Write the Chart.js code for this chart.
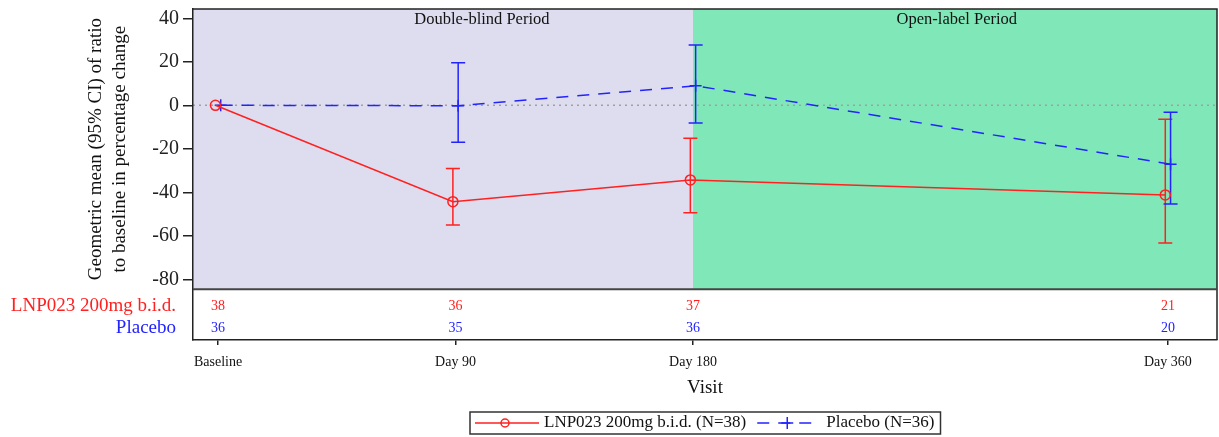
<!DOCTYPE html>
<html lang="en">
<head>
  <meta charset="UTF-8" />
  <title>Geometric mean ratio to baseline</title>
  <script src="https://cdn.jsdelivr.net/npm/chart.js"></script>
  <style>
    body { margin: 0; padding: 0; background: #fff; }
    canvas { display: block; }
  </style>
</head>
<body>
  <canvas id="visitChart" width="1219" height="437"></canvas>

  <script>
    // visits (study day) and their labels
    const visitDays = [0, 90, 180, 360];
    const visitLabels = ["Baseline", "Day 90", "Day 180", "Day 360"];

    // LNP023 200mg b.i.d.
    const lnpMean  = [0, -44.3, -34.3, -41.2];
    const lnpLower = [0, -55.0, -49.4, -63.3];
    const lnpUpper = [0, -29.0, -15.2, -6.4];
    const lnpN     = [38, 36, 37, 21];

    // Placebo
    const pboMean  = [0, -0.2, 9.0, -27.1];
    const pboLower = [0, -17.0, -8.1, -45.4];
    const pboUpper = [0, 19.6, 27.7, -3.2];
    const pboN     = [36, 35, 36, 20];

    const yTicks = [40, 20, 0, -20, -40, -60, -80];

    const RED = "#FF2020";
    const BLUE = "#2323FF";
    const SERIF = "'Liberation Serif', 'DejaVu Serif', serif";
    const PLOT_BOTTOM = -84.6;   // y value where the plot ends and the N table starts
    const OPEN_LABEL_START = 180;
    const DODGE = 1;             // small horizontal shift between the two groups

    const toPoints = (means, shift) => visitDays.map((d, i) => ({ x: d + shift, y: means[i] }));

    const noPad = s => { s.paddingTop = 0; s.paddingBottom = 0; s.paddingLeft = 0; s.paddingRight = 0; };

    const decorPlugin = {
      id: "decor",
      beforeDraw(chart) {
        const { ctx, chartArea: a, scales: { x, y } } = chart;
        const yb = y.getPixelForValue(PLOT_BOTTOM);
        const xs = x.getPixelForValue(OPEN_LABEL_START);
        ctx.save();
        ctx.fillStyle = "#DDDDEF";
        ctx.fillRect(a.left, a.top, xs - a.left, yb - a.top);
        ctx.fillStyle = "#80E8B8";
        ctx.fillRect(xs, a.top, a.right - xs, yb - a.top);
        // zero reference line
        ctx.strokeStyle = "#A0A0A0";
        ctx.lineWidth = 1.5;
        ctx.setLineDash([2, 4]);
        const y0 = y.getPixelForValue(0);
        ctx.beginPath();
        ctx.moveTo(a.left, y0);
        ctx.lineTo(a.right, y0);
        ctx.stroke();
        ctx.restore();
      },
      beforeDatasetsDraw(chart) {
        const { ctx, scales: { x, y } } = chart;
        const bars = [
          { lo: lnpLower, hi: lnpUpper, shift: -DODGE, color: RED },
          { lo: pboLower, hi: pboUpper, shift: DODGE, color: BLUE }
        ];
        ctx.save();
        ctx.lineWidth = 1.5;
        bars.forEach(b => {
          ctx.strokeStyle = b.color;
          visitDays.forEach((d, i) => {
            if (b.lo[i] === b.hi[i]) return;
            const px = x.getPixelForValue(d + b.shift);
            const pl = y.getPixelForValue(b.lo[i]);
            const ph = y.getPixelForValue(b.hi[i]);
            ctx.beginPath();
            ctx.moveTo(px, pl); ctx.lineTo(px, ph);
            ctx.moveTo(px - 7, pl); ctx.lineTo(px + 7, pl);
            ctx.moveTo(px - 7, ph); ctx.lineTo(px + 7, ph);
            ctx.stroke();
          });
        });
        ctx.restore();
      },
      afterDraw(chart) {
        const { ctx, chartArea: a, scales: { x, y } } = chart;
        const yb = y.getPixelForValue(PLOT_BOTTOM);
        ctx.save();
        // frame
        ctx.strokeStyle = "#222";
        ctx.lineWidth = 1.5;
        ctx.beginPath();
        ctx.moveTo(a.left, a.top); ctx.lineTo(a.right, a.top); ctx.lineTo(a.right, a.bottom);
        ctx.stroke();
        ctx.strokeStyle = "#444";
        ctx.lineWidth = 2;
        ctx.beginPath();
        ctx.moveTo(a.left, yb); ctx.lineTo(a.right, yb);
        ctx.stroke();

        // period labels
        ctx.fillStyle = "#111";
        ctx.font = "16.5px " + SERIF;
        ctx.textAlign = "center";
        ctx.textBaseline = "middle";
        ctx.fillText("Double-blind Period", x.getPixelForValue(100), 20);
        ctx.fillText("Open-label Period", x.getPixelForValue(280), 20);

        // N at risk table
        ctx.font = "14px " + SERIF;
        visitDays.forEach((d, i) => {
          const px = x.getPixelForValue(d);
          ctx.fillStyle = RED;
          ctx.fillText(lnpN[i], px, 306);
          ctx.fillStyle = BLUE;
          ctx.fillText(pboN[i], px, 328);
        });
        ctx.font = "19px " + SERIF;
        ctx.textAlign = "right";
        ctx.fillStyle = RED;
        ctx.fillText("LNP023 200mg b.i.d.", 176, 306);
        ctx.fillStyle = BLUE;
        ctx.fillText("Placebo", 176, 328);

        // y axis title
        ctx.fillStyle = "#111";
        ctx.textAlign = "center";
        ctx.translate(0, (a.top + yb) / 2);
        ctx.rotate(-Math.PI / 2);
        ctx.fillText("Geometric mean (95% CI) of ratio", 0, 96);
        ctx.fillText("to baseline in percentage change", 0, 120);
        ctx.setTransform(1, 0, 0, 1, 0, 0);

        // x axis title
        ctx.fillText("Visit", (a.left + a.right) / 2, 388);

        // legend
        ctx.font = "17px " + SERIF;
        ctx.textAlign = "left";
        const t1 = "LNP023 200mg b.i.d. (N=38)";
        const t2 = "Placebo (N=36)";
        const w1 = ctx.measureText(t1).width;
        const w2 = ctx.measureText(t2).width;
        const total = 5 + 64 + 5 + w1 + 11 + 59 + 10 + w2 + 6;
        let lx = Math.round((a.left + a.right) / 2 - total / 2);
        const ly = 423;
        ctx.strokeStyle = "#333";
        ctx.lineWidth = 1.5;
        ctx.strokeRect(lx, 412, total, 22);
        lx += 5;
        ctx.strokeStyle = RED;
        ctx.beginPath();
        ctx.moveTo(lx, ly); ctx.lineTo(lx + 64, ly);
        ctx.stroke();
        ctx.beginPath();
        ctx.arc(lx + 30, ly, 4, 0, Math.PI * 2);
        ctx.stroke();
        lx += 69;
        ctx.fillStyle = "#111";
        ctx.fillText(t1, lx, ly);
        lx += w1 + 11;
        ctx.strokeStyle = BLUE;
        ctx.setLineDash([12, 9]);
        ctx.beginPath();
        ctx.moveTo(lx, ly); ctx.lineTo(lx + 59, ly);
        ctx.stroke();
        ctx.setLineDash([]);
        ctx.beginPath();
        ctx.moveTo(lx + 24, ly); ctx.lineTo(lx + 36, ly);
        ctx.moveTo(lx + 30, ly - 6); ctx.lineTo(lx + 30, ly + 6);
        ctx.stroke();
        lx += 69;
        ctx.fillText(t2, lx, ly);
        ctx.restore();
      }
    };

    new Chart(document.getElementById("visitChart"), {
      type: "scatter",
      data: {
        datasets: [
          {
            label: "LNP023 200mg b.i.d. (N=38)",
            data: toPoints(lnpMean, -DODGE),
            showLine: true,
            borderColor: RED,
            borderWidth: 1.5,
            pointStyle: "circle",
            pointRadius: 5,
            pointBorderWidth: 1.5,
            pointBackgroundColor: "rgba(0,0,0,0)",
            pointBorderColor: RED
          },
          {
            label: "Placebo (N=36)",
            data: toPoints(pboMean, DODGE),
            showLine: true,
            borderColor: BLUE,
            borderWidth: 1.5,
            borderDash: [12, 9],
            pointStyle: "cross",
            pointRadius: 6,
            pointBorderWidth: 1.5,
            pointBorderColor: BLUE
          }
        ]
      },
      options: {
        responsive: false,
        animation: false,
        layout: { autoPadding: false, padding: { top: 9, right: 2, left: 0, bottom: 0 } },
        plugins: {
          legend: { display: false },
          tooltip: { enabled: false }
        },
        scales: {
          x: {
            type: "linear",
            min: -9.5,
            max: 378.6,
            afterBuildTicks: s => { s.ticks = visitDays.map(v => ({ value: v })); },
            afterFit: s => { s.height = 97; noPad(s); },
            ticks: {
              color: "#111",
              font: { family: SERIF, size: 14 },
              padding: 9,
              maxRotation: 0,
              callback: v => visitLabels[visitDays.indexOf(v)]
            },
            grid: { drawOnChartArea: false, drawTicks: true, tickLength: 5, color: "#222", lineWidth: 1.5 },
            border: { display: true, color: "#222", width: 1.5 }
          },
          y: {
            min: -107.9,
            max: 44.28,
            afterBuildTicks: s => { s.ticks = yTicks.map(v => ({ value: v })); },
            afterFit: s => { s.width = 193; noPad(s); },
            ticks: {
              color: "#222",
              font: { family: SERIF, size: 20 },
              padding: 4
            },
            grid: { drawOnChartArea: false, drawTicks: true, tickLength: 10, color: "#222", lineWidth: 1.5 },
            border: { display: true, color: "#222", width: 1.5 }
          }
        }
      },
      plugins: [decorPlugin]
    });
  </script>
</body>
</html>
